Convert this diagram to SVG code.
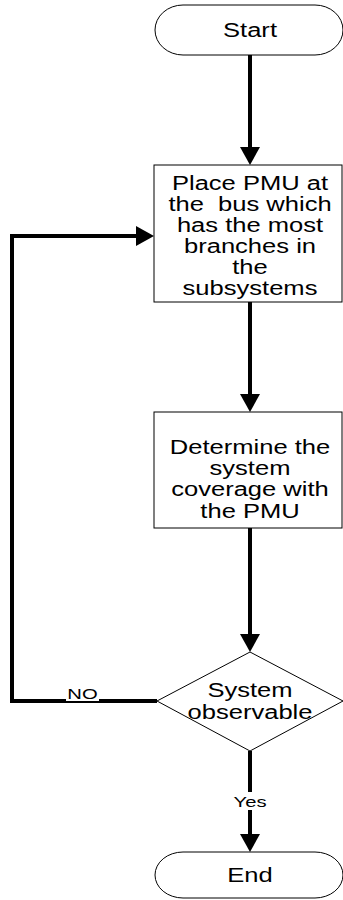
<svg xmlns="http://www.w3.org/2000/svg" width="343" height="900" viewBox="0 0 343 900">
<defs>
<marker id="ah" markerUnits="userSpaceOnUse" markerWidth="20" markerHeight="22" refX="0" refY="10" orient="auto" viewBox="0 0 20 20">
<path d="M0,0 L18,10 L0,20 z" fill="#000"/>
</marker>
<style>
.shape{fill:#fff;stroke:#000;stroke-width:1}
.t{font-family:"Liberation Sans",Arial,sans-serif;font-size:19.5px;fill:#000;text-anchor:middle}
.lbl{font-family:"Liberation Sans",Arial,sans-serif;font-size:15px;fill:#000;text-anchor:middle}
.c{fill:none;stroke:#000;stroke-width:4}
</style>
</defs>
<rect width="343" height="900" fill="#fff"/>
<g id="connectors">
<path class="c" d="M250,55 V147" marker-end="url(#ah)"/>
<path class="c" d="M250,302 V394" marker-end="url(#ah)"/>
<path class="c" d="M250,528 V634" marker-end="url(#ah)"/>
<path class="c" d="M250,751 V834" marker-end="url(#ah)"/>
<path class="c" d="M157,701 H12 V236 H136" marker-end="url(#ah)"/>
<rect x="66" y="687" width="33" height="14" fill="#fff"/>
<text class="lbl" transform="translate(82.5 699) scale(1.35 1)">NO</text>
<rect x="231" y="792" width="38" height="18" fill="#fff"/>
<text class="lbl" transform="translate(250 806.5) scale(1.35 1)">Yes</text>
</g>
<g id="start">
<rect class="shape" x="155" y="5" width="188" height="50" rx="28" ry="25"/>
<text class="t" transform="translate(250 36.5) scale(1.31 1)">Start</text>
</g>
<g id="place">
<rect class="shape" x="154" y="165" width="188" height="137"/>
<text class="t" transform="translate(250 190) scale(1.31 1)">Place PMU at</text>
<text class="t" transform="translate(250 211) scale(1.31 1)" xml:space="preserve">the  bus which</text>
<text class="t" transform="translate(250 232) scale(1.31 1)">has the most</text>
<text class="t" transform="translate(250 253) scale(1.31 1)">branches in</text>
<text class="t" transform="translate(250 274) scale(1.31 1)">the</text>
<text class="t" transform="translate(250 295) scale(1.31 1)">subsystems</text>
</g>
<g id="determine">
<rect class="shape" x="154" y="412" width="188" height="116"/>
<text class="t" transform="translate(250 454) scale(1.31 1)">Determine the</text>
<text class="t" transform="translate(250 475) scale(1.31 1)">system</text>
<text class="t" transform="translate(250 496) scale(1.31 1)">coverage with</text>
<text class="t" transform="translate(250 518) scale(1.31 1)">the PMU</text>
</g>
<g id="observable">
<path class="shape" d="M250,652 L343,701 L250,751 L157,701 z"/>
<text class="t" transform="translate(250 697) scale(1.31 1)">System</text>
<text class="t" transform="translate(250 719) scale(1.31 1)">observable</text>
</g>
<g id="end">
<rect class="shape" x="155" y="852" width="188" height="46" rx="28" ry="23"/>
<text class="t" transform="translate(250 882) scale(1.31 1)">End</text>
</g>
</svg>
